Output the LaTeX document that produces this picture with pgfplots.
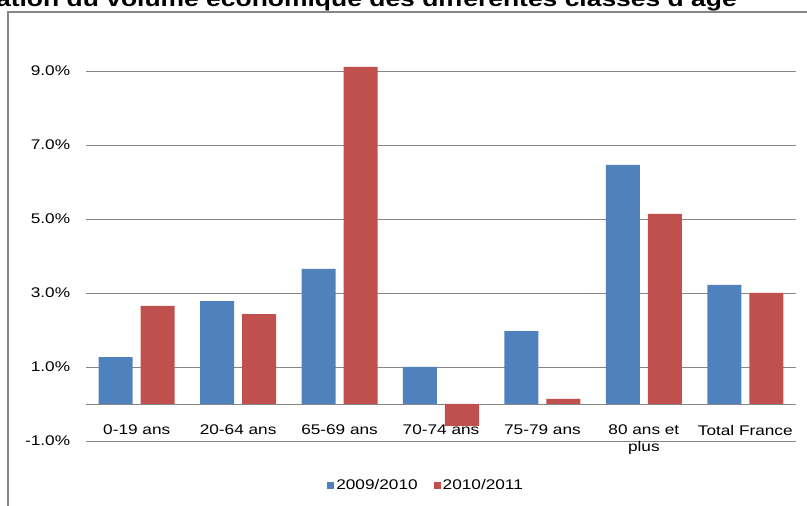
\documentclass[border=0pt]{standalone}
\usepackage{pgfplots}
\pgfplotsset{compat=1.18}
\usepackage{fontspec}
\setmainfont{Liberation Sans}[FakeStretch=1.23]
\definecolor{serA}{RGB}{79,129,189}
\definecolor{serB}{RGB}{192,80,77}
\definecolor{gridc}{RGB}{134,134,134}
\begin{document}
\fontsize{14}{16.8}\selectfont
\begin{tikzpicture}[x=1pt,y=1pt]
\useasboundingbox (0,0) rectangle (807,506);
\clip (0,0) rectangle (807,506);
\node[anchor=base east, font=\bfseries\fontsize{21.5}{25}\selectfont, inner sep=0] at (737,499)
  {Variation du volume économique des différentes classes d'âge};
\draw[gridc, line width=1.3pt] (8,0) -- (8,494) -- (807,494);
\begin{axis}[
  at={(86pt,65pt)}, anchor=south west,
  scale only axis, width=710pt, height=407pt,
  ybar=8pt, bar width=34pt,
  xmin=-0.5, xmax=6.5, ymin=-1, ymax=10,
  xtick={0,...,6},
  xticklabels={0-19 ans,20-64 ans,65-69 ans,70-74 ans,75-79 ans,{80 ans et\\plus},Total France},
  ytick={-1,1,3,5,7,9},
  yticklabel={\pgfmathprintnumber[fixed,fixed zerofill,precision=1]{\tick}\%},
  /pgf/number format/assume math mode=true,
  ymajorgrids, major grid style={gridc, line width=0.9pt},
  extra y ticks={0}, extra y tick labels={},
  extra y tick style={grid=major},
  axis line style={draw=none}, major tick length=0pt,
  xticklabel style={align=center, yshift=21pt},
  yticklabel style={xshift=-11pt},
  legend style={at={(0.479,-0.11)}, anchor=center, legend columns=2,
    draw=none, fill=none,
    /tikz/every even column/.append style={column sep=14pt}},
  legend image code/.code={\fill[#1] (0pt,-3.5pt) rectangle (7pt,3.5pt);},
]
\addplot[fill=serA, draw=none] coordinates {
  (0,1.27) (1,2.78) (2,3.65) (3,1.00) (4,1.97) (5,6.46) (6,3.22)};
\addplot[fill=serB, draw=none] coordinates {
  (0,2.65) (1,2.43) (2,9.11) (3,-0.59) (4,0.14) (5,5.14) (6,3.00)};
\legend{2009/2010,2010/2011}
\end{axis}
\end{tikzpicture}
\end{document}
